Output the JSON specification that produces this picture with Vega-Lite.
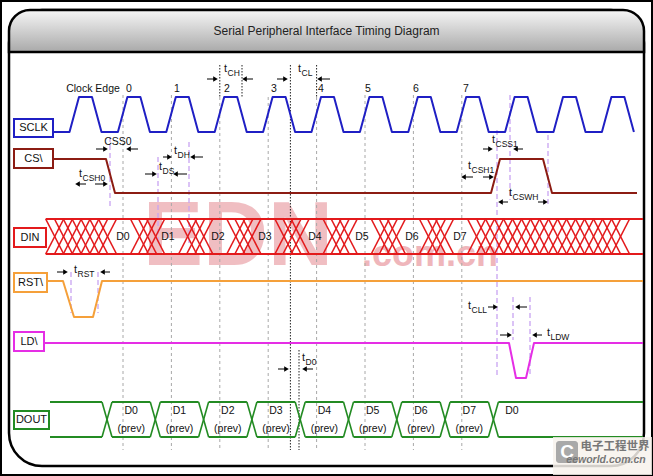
{
"$schema": "https://vega.github.io/schema/vega-lite/v6.json",
"width": 653, "height": 476,
"autosize": {"type": "fit", "contains": "padding"},
"padding": 0,
"background": "white",
"config": {"view": {"stroke": "black", "strokeWidth": 4}, "text": {"font": "Liberation Sans"}},
"datasets": {
"frame": [{"x": 9, "x2": 644, "y": 10, "y2": 466}],
"header": [{"x": 9, "x2": 644, "y": 10, "y2": 52}],
"waves": [
{"s":"SCLK","o":0,"x":53,"y":132},
{"s":"SCLK","o":1,"x":69.5,"y":132},{"s":"SCLK","o":2,"x":79,"y":97},{"s":"SCLK","o":3,"x":92,"y":97},{"s":"SCLK","o":4,"x":101.5,"y":132},
{"s":"SCLK","o":5,"x":117.9,"y":132},{"s":"SCLK","o":6,"x":127.4,"y":97},{"s":"SCLK","o":7,"x":140.4,"y":97},{"s":"SCLK","o":8,"x":149.9,"y":132},
{"s":"SCLK","o":9,"x":166.3,"y":132},{"s":"SCLK","o":10,"x":175.8,"y":97},{"s":"SCLK","o":11,"x":188.8,"y":97},{"s":"SCLK","o":12,"x":198.3,"y":132},
{"s":"SCLK","o":13,"x":214.7,"y":132},{"s":"SCLK","o":14,"x":224.2,"y":97},{"s":"SCLK","o":15,"x":237.2,"y":97},{"s":"SCLK","o":16,"x":246.7,"y":132},
{"s":"SCLK","o":17,"x":263.1,"y":132},{"s":"SCLK","o":18,"x":272.6,"y":97},{"s":"SCLK","o":19,"x":285.6,"y":97},{"s":"SCLK","o":20,"x":295.1,"y":132},
{"s":"SCLK","o":21,"x":311.5,"y":132},{"s":"SCLK","o":22,"x":321,"y":97},{"s":"SCLK","o":23,"x":334,"y":97},{"s":"SCLK","o":24,"x":343.5,"y":132},
{"s":"SCLK","o":25,"x":359.9,"y":132},{"s":"SCLK","o":26,"x":369.4,"y":97},{"s":"SCLK","o":27,"x":382.4,"y":97},{"s":"SCLK","o":28,"x":391.9,"y":132},
{"s":"SCLK","o":29,"x":408.3,"y":132},{"s":"SCLK","o":30,"x":417.8,"y":97},{"s":"SCLK","o":31,"x":430.8,"y":97},{"s":"SCLK","o":32,"x":440.3,"y":132},
{"s":"SCLK","o":33,"x":456.7,"y":132},{"s":"SCLK","o":34,"x":466.2,"y":97},{"s":"SCLK","o":35,"x":479.2,"y":97},{"s":"SCLK","o":36,"x":488.7,"y":132},
{"s":"SCLK","o":37,"x":505.1,"y":132},{"s":"SCLK","o":38,"x":514.6,"y":97},{"s":"SCLK","o":39,"x":527.6,"y":97},{"s":"SCLK","o":40,"x":537.1,"y":132},
{"s":"SCLK","o":41,"x":553.5,"y":132},{"s":"SCLK","o":42,"x":563,"y":97},{"s":"SCLK","o":43,"x":576,"y":97},{"s":"SCLK","o":44,"x":585.5,"y":132},
{"s":"SCLK","o":45,"x":601.9,"y":132},{"s":"SCLK","o":46,"x":611.4,"y":97},{"s":"SCLK","o":47,"x":624.4,"y":97},{"s":"SCLK","o":48,"x":633.9,"y":132},
{"s":"CS","o":0,"x":53,"y":159},{"s":"CS","o":1,"x":106,"y":159},{"s":"CS","o":2,"x":115,"y":193},{"s":"CS","o":3,"x":491,"y":193},{"s":"CS","o":4,"x":500,"y":159},{"s":"CS","o":5,"x":543,"y":159},{"s":"CS","o":6,"x":552,"y":193},{"s":"CS","o":7,"x":637,"y":193},
{"s":"RST","o":0,"x":47,"y":281},{"s":"RST","o":1,"x":63,"y":281},{"s":"RST","o":2,"x":74,"y":317},{"s":"RST","o":3,"x":93,"y":317},{"s":"RST","o":4,"x":102,"y":281},{"s":"RST","o":5,"x":643,"y":281},
{"s":"LD","o":0,"x":44,"y":343},{"s":"LD","o":1,"x":509,"y":343},{"s":"LD","o":2,"x":516,"y":378},{"s":"LD","o":3,"x":526,"y":378},{"s":"LD","o":4,"x":534,"y":343},{"s":"LD","o":5,"x":643,"y":343}
],
"xs": [
{"s":"DIN","lo":45.7,"hi":63.7,"t":219,"b":254},{"s":"DIN","lo":54.5,"hi":72.5,"t":219,"b":254},{"s":"DIN","lo":63.3,"hi":81.3,"t":219,"b":254},{"s":"DIN","lo":72.1,"hi":90.1,"t":219,"b":254},{"s":"DIN","lo":80.9,"hi":98.9,"t":219,"b":254},{"s":"DIN","lo":89.7,"hi":107.7,"t":219,"b":254},{"s":"DIN","lo":98.5,"hi":116.5,"t":219,"b":254},
{"s":"DIN","lo":130.5,"hi":148.5,"t":219,"b":254},{"s":"DIN","lo":138.6,"hi":156.6,"t":219,"b":254},{"s":"DIN","lo":146.65,"hi":164.65,"t":219,"b":254},
{"s":"DIN","lo":178.65,"hi":196.65,"t":219,"b":254},{"s":"DIN","lo":186.7,"hi":204.7,"t":219,"b":254},{"s":"DIN","lo":194.8,"hi":212.8,"t":219,"b":254},
{"s":"DIN","lo":226.8,"hi":244.8,"t":219,"b":254},{"s":"DIN","lo":234.9,"hi":252.9,"t":219,"b":254},{"s":"DIN","lo":242.95,"hi":260.95,"t":219,"b":254},
{"s":"DIN","lo":274.95,"hi":292.95,"t":219,"b":254},{"s":"DIN","lo":283,"hi":301,"t":219,"b":254},{"s":"DIN","lo":291.1,"hi":309.1,"t":219,"b":254},
{"s":"DIN","lo":323.1,"hi":341.1,"t":219,"b":254},{"s":"DIN","lo":331.2,"hi":349.2,"t":219,"b":254},{"s":"DIN","lo":339.25,"hi":357.25,"t":219,"b":254},
{"s":"DIN","lo":371.25,"hi":389.25,"t":219,"b":254},{"s":"DIN","lo":379.3,"hi":397.3,"t":219,"b":254},{"s":"DIN","lo":387.4,"hi":405.4,"t":219,"b":254},
{"s":"DIN","lo":419.4,"hi":437.4,"t":219,"b":254},{"s":"DIN","lo":427.5,"hi":445.5,"t":219,"b":254},{"s":"DIN","lo":435.55,"hi":453.55,"t":219,"b":254},
{"s":"DIN","lo":467.55,"hi":485.55,"t":219,"b":254},{"s":"DIN","lo":476.55,"hi":494.55,"t":219,"b":254},{"s":"DIN","lo":485.55,"hi":503.55,"t":219,"b":254},{"s":"DIN","lo":494.55,"hi":512.55,"t":219,"b":254},{"s":"DIN","lo":503.55,"hi":521.55,"t":219,"b":254},{"s":"DIN","lo":512.55,"hi":530.55,"t":219,"b":254},{"s":"DIN","lo":521.55,"hi":539.55,"t":219,"b":254},{"s":"DIN","lo":530.55,"hi":548.55,"t":219,"b":254},{"s":"DIN","lo":539.55,"hi":557.55,"t":219,"b":254},{"s":"DIN","lo":548.55,"hi":566.55,"t":219,"b":254},{"s":"DIN","lo":557.55,"hi":575.55,"t":219,"b":254},{"s":"DIN","lo":566.55,"hi":584.55,"t":219,"b":254},{"s":"DIN","lo":575.55,"hi":593.55,"t":219,"b":254},{"s":"DIN","lo":584.55,"hi":602.55,"t":219,"b":254},{"s":"DIN","lo":593.55,"hi":611.55,"t":219,"b":254},{"s":"DIN","lo":602.55,"hi":620.55,"t":219,"b":254},{"s":"DIN","lo":611.55,"hi":629.55,"t":219,"b":254},
{"s":"DOUT","lo":102,"hi":112,"t":402,"b":437},{"s":"DOUT","lo":150.3,"hi":160.3,"t":402,"b":437},{"s":"DOUT","lo":198.6,"hi":208.6,"t":402,"b":437},{"s":"DOUT","lo":246.9,"hi":256.9,"t":402,"b":437},{"s":"DOUT","lo":295.2,"hi":305.2,"t":402,"b":437},{"s":"DOUT","lo":343.5,"hi":353.5,"t":402,"b":437},{"s":"DOUT","lo":391.8,"hi":401.8,"t":402,"b":437},{"s":"DOUT","lo":440.1,"hi":450.1,"t":402,"b":437},{"s":"DOUT","lo":488.4,"hi":498.4,"t":402,"b":437}
],
"hlines": [
{"s":"DIN","x":45.7,"x2":643,"y":219},{"s":"DIN","x":45.7,"x2":643,"y":254},
{"s":"DOUT","x":50,"x2":102,"y":402},{"s":"DOUT","x":112,"x2":150.3,"y":402},{"s":"DOUT","x":160.3,"x2":198.6,"y":402},{"s":"DOUT","x":208.6,"x2":246.9,"y":402},{"s":"DOUT","x":256.9,"x2":295.2,"y":402},{"s":"DOUT","x":305.2,"x2":343.5,"y":402},{"s":"DOUT","x":353.5,"x2":391.8,"y":402},{"s":"DOUT","x":401.8,"x2":440.1,"y":402},{"s":"DOUT","x":450.1,"x2":488.4,"y":402},{"s":"DOUT","x":498.4,"x2":643,"y":402},
{"s":"DOUT","x":50,"x2":102,"y":437},{"s":"DOUT","x":112,"x2":150.3,"y":437},{"s":"DOUT","x":160.3,"x2":198.6,"y":437},{"s":"DOUT","x":208.6,"x2":246.9,"y":437},{"s":"DOUT","x":256.9,"x2":295.2,"y":437},{"s":"DOUT","x":305.2,"x2":343.5,"y":437},{"s":"DOUT","x":353.5,"x2":391.8,"y":437},{"s":"DOUT","x":401.8,"x2":440.1,"y":437},{"s":"DOUT","x":450.1,"x2":488.4,"y":437},{"s":"DOUT","x":498.4,"x2":643,"y":437}
],
"boxes": [
{"s":"SCLK","t":"SCLK","x":14,"x2":53,"y":119,"y2":137,"cx":33.5,"cy":128},
{"s":"CS","t":"CS\\","x":14,"x2":53,"y":149,"y2":168,"cx":33.5,"cy":158.5},
{"s":"DIN","t":"DIN","x":14,"x2":46,"y":228,"y2":247,"cx":30,"cy":237.5},
{"s":"RST","t":"RST\\","x":14,"x2":47,"y":273,"y2":292,"cx":30.5,"cy":282.5},
{"s":"LD","t":"LD\\","x":14,"x2":44,"y":332,"y2":351,"cx":29,"cy":341.5},
{"s":"DOUT","t":"DOUT","x":14,"x2":49,"y":411,"y2":429,"cx":31.5,"cy":420}
],
"guides": [
{"k":"g","x":123,"y":95,"y2":450},{"k":"g","x":171.4,"y":95,"y2":450},{"k":"g","x":219.8,"y":97,"y2":450},{"k":"g","x":268.2,"y":97,"y2":450},{"k":"g","x":316.6,"y":97,"y2":450},{"k":"g","x":365,"y":95,"y2":450},{"k":"g","x":413.4,"y":95,"y2":450},{"k":"g","x":461.8,"y":95,"y2":450},
{"k":"b","x":219.8,"y":65,"y2":97},{"k":"b","x":242,"y":65,"y2":97},{"k":"b","x":290.4,"y":65,"y2":450},{"k":"b","x":316.6,"y":65,"y2":97},{"k":"b","x":299,"y":350,"y2":450},
{"k":"p","x":110,"y":137,"y2":207},{"k":"p","x":158,"y":157,"y2":245},{"k":"p","x":189,"y":142,"y2":245},{"k":"p","x":71,"y":272,"y2":313},{"k":"p","x":98,"y":272,"y2":313},{"k":"p","x":497,"y":130,"y2":375},{"k":"p","x":510,"y":95,"y2":200},{"k":"p","x":548,"y":135,"y2":205},{"k":"p","x":513,"y":297,"y2":340},{"k":"p","x":530,"y":297,"y2":375}
],
"arrows": [
{"x":207,"h":215.5,"y":79,"d":"R"},{"x":253,"h":244.5,"y":79,"d":"L"},
{"x":277,"h":285.5,"y":79,"d":"R"},{"x":330,"h":319.5,"y":79,"d":"L"},
{"x":96,"h":105.5,"y":149,"d":"R"},{"x":138,"h":128.5,"y":149,"d":"L"},
{"x":163,"h":169.5,"y":157,"d":"R"},{"x":203,"h":192.5,"y":157,"d":"L"},
{"x":145,"h":154.5,"y":174,"d":"R"},{"x":187,"h":175.5,"y":174,"d":"L"},
{"x":86,"h":77.5,"y":184,"d":"L"},{"x":95,"h":105.5,"y":184,"d":"R"},
{"x":483,"h":490.5,"y":149,"d":"R"},{"x":523,"h":515.5,"y":149,"d":"L"},
{"x":473,"h":463.5,"y":177,"d":"L"},{"x":483,"h":491.5,"y":177,"d":"R"},
{"x":508,"h":500.5,"y":202,"d":"L"},{"x":538,"h":545.5,"y":202,"d":"R"},
{"x":488,"h":495.5,"y":307,"d":"R"},{"x":527,"h":517.5,"y":307,"d":"L"},
{"x":500,"h":509.5,"y":335,"d":"R"},{"x":542,"h":534.5,"y":335,"d":"L"},
{"x":278,"h":286.5,"y":369,"d":"R"},{"x":313,"h":304.5,"y":369,"d":"L"},
{"x":57,"h":65.5,"y":272,"d":"R"},{"x":110,"h":102.5,"y":272,"d":"L"}
],
"labels": [
{"k":"lab","t":"Clock Edge","x":93,"y":89},
{"k":"lab","t":"0","x":129,"y":89},{"k":"lab","t":"1","x":177,"y":89},{"k":"lab","t":"2","x":227,"y":89},{"k":"lab","t":"3","x":274,"y":89},{"k":"lab","t":"4","x":321,"y":89},{"k":"lab","t":"5","x":368,"y":89},{"k":"lab","t":"6","x":416,"y":89},{"k":"lab","t":"7","x":466,"y":89},
{"k":"lab","t":"CSS0","x":118,"y":142},
{"k":"lab","t":"D0","x":123,"y":237},{"k":"lab","t":"D1","x":168,"y":237},{"k":"lab","t":"D2","x":218,"y":237},{"k":"lab","t":"D3","x":265,"y":237},{"k":"lab","t":"D4","x":315,"y":237},{"k":"lab","t":"D5","x":362,"y":237},{"k":"lab","t":"D6","x":412,"y":237},{"k":"lab","t":"D7","x":460,"y":237},
{"k":"lab","t":"D0","x":131.2,"y":411},{"k":"lab","t":"D1","x":179.5,"y":411},{"k":"lab","t":"D2","x":227.8,"y":411},{"k":"lab","t":"D3","x":276,"y":411},{"k":"lab","t":"D4","x":324.4,"y":411},{"k":"lab","t":"D5","x":372.7,"y":411},{"k":"lab","t":"D6","x":421,"y":411},{"k":"lab","t":"D7","x":469.3,"y":411},{"k":"lab","t":"D0","x":512,"y":411},
{"k":"lab","t":"(prev)","x":131.2,"y":429},{"k":"lab","t":"(prev)","x":179.5,"y":429},{"k":"lab","t":"(prev)","x":227.8,"y":429},{"k":"lab","t":"(prev)","x":276,"y":429},{"k":"lab","t":"(prev)","x":324.4,"y":429},{"k":"lab","t":"(prev)","x":372.7,"y":429},{"k":"lab","t":"(prev)","x":421,"y":429},{"k":"lab","t":"(prev)","x":469.3,"y":429},
{"k":"t","t":"t","x":224,"y":69},{"k":"sub","t":"CH","x":227.5,"y":73},
{"k":"t","t":"t","x":298,"y":69},{"k":"sub","t":"CL","x":301.5,"y":73},
{"k":"t","t":"t","x":174,"y":151},{"k":"sub","t":"DH","x":177.5,"y":155},
{"k":"t","t":"t","x":159,"y":167},{"k":"sub","t":"DS","x":162.5,"y":171},
{"k":"t","t":"t","x":79,"y":174},{"k":"sub","t":"CSH0","x":82.5,"y":178},
{"k":"t","t":"t","x":492,"y":140},{"k":"sub","t":"CSS1","x":495.5,"y":144},
{"k":"t","t":"t","x":468,"y":166},{"k":"sub","t":"CSH1","x":471.5,"y":170},
{"k":"t","t":"t","x":509,"y":193},{"k":"sub","t":"CSWH","x":512.5,"y":197},
{"k":"t","t":"t","x":468,"y":306},{"k":"sub","t":"CLL","x":471.5,"y":310},
{"k":"t","t":"t","x":547,"y":333},{"k":"sub","t":"LDW","x":550.5,"y":337},
{"k":"t","t":"t","x":302,"y":358},{"k":"sub","t":"D0","x":305.5,"y":362},
{"k":"t","t":"t","x":74,"y":270},{"k":"sub","t":"RST","x":77.5,"y":274}
]
},
"layer": [
{"data": {"name": "frame"}, "mark": {"type": "rect", "cornerRadius": 33, "fill": "white", "stroke": "black", "strokeWidth": 2.5},
 "encoding": {"x": {"field": "x", "type": "quantitative", "scale": {"domain": [0, 653], "nice": false, "zero": false}, "axis": null}, "x2": {"field": "x2"},
  "y": {"field": "y", "type": "quantitative", "scale": {"domain": [0, 476], "nice": false, "zero": false, "reverse": true}, "axis": null}, "y2": {"field": "y2"}}},
{"data": {"name": "header"}, "mark": {"type": "rect", "cornerRadiusTopLeft": 33, "cornerRadiusTopRight": 33, "stroke": "black", "strokeWidth": 2.5,
  "fill": {"gradient": "linear", "x1": 0, "y1": 0, "x2": 0, "y2": 1, "stops": [{"offset": 0, "color": "#f6f6f6"}, {"offset": 1, "color": "#a9a9a9"}]}},
 "encoding": {"x": {"field": "x", "type": "quantitative"}, "x2": {"field": "x2"}, "y": {"field": "y", "type": "quantitative"}, "y2": {"field": "y2"}}},
{"data": {"values": [{"t": "Serial Peripheral Interface Timing Diagram", "x": 326.5, "y": 31}]},
 "mark": {"type": "text", "fontSize": 12, "color": "#222222", "align": "center", "baseline": "middle"},
 "encoding": {"x": {"field": "x", "type": "quantitative"}, "y": {"field": "y", "type": "quantitative"}, "text": {"field": "t"}}},
{"data": {"values": [{"t": "EDN", "x": 143, "y": 265}]},
 "mark": {"type": "text", "fontSize": 90, "fontWeight": "bold", "color": "#e0707a", "opacity": 0.45, "align": "left", "baseline": "alphabetic"},
 "encoding": {"x": {"field": "x", "type": "quantitative"}, "y": {"field": "y", "type": "quantitative"}, "text": {"field": "t"}}},
{"data": {"values": [{"t": ".com.cn", "x": 362, "y": 266}]},
 "mark": {"type": "text", "fontSize": 36, "fontWeight": "bold", "color": "#e0707a", "opacity": 0.5, "align": "left", "baseline": "alphabetic"},
 "encoding": {"x": {"field": "x", "type": "quantitative"}, "y": {"field": "y", "type": "quantitative"}, "text": {"field": "t"}}},
{"data": {"name": "guides"}, "transform": [{"filter": "datum.k == 'g'"}],
 "mark": {"type": "rule", "color": "#a8a8a8", "strokeWidth": 1, "strokeDash": [3, 3]},
 "encoding": {"x": {"field": "x", "type": "quantitative"}, "y": {"field": "y", "type": "quantitative"}, "y2": {"field": "y2"}}},
{"data": {"name": "guides"}, "transform": [{"filter": "datum.k == 'b'"}],
 "mark": {"type": "rule", "color": "#222222", "strokeWidth": 1, "strokeDash": [1.5, 1.5]},
 "encoding": {"x": {"field": "x", "type": "quantitative"}, "y": {"field": "y", "type": "quantitative"}, "y2": {"field": "y2"}}},
{"data": {"name": "guides"}, "transform": [{"filter": "datum.k == 'p'"}],
 "mark": {"type": "rule", "color": "#c8a4f2", "strokeWidth": 1.3, "strokeDash": [5, 3]},
 "encoding": {"x": {"field": "x", "type": "quantitative"}, "y": {"field": "y", "type": "quantitative"}, "y2": {"field": "y2"}}},
{"data": {"name": "hlines"}, "mark": {"type": "rule", "strokeWidth": 2},
 "encoding": {"x": {"field": "x", "type": "quantitative"}, "x2": {"field": "x2"}, "y": {"field": "y", "type": "quantitative"},
  "color": {"field": "s", "type": "nominal", "legend": null, "scale": {"domain": ["SCLK", "CS", "DIN", "RST", "LD", "DOUT"], "range": ["#1f1fc4", "#8c1c13", "#e31a1c", "#f5a03a", "#e52ee5", "#238b23"]}}}},
{"data": {"name": "xs"}, "mark": {"type": "rule", "strokeWidth": 1.6},
 "encoding": {"x": {"field": "lo", "type": "quantitative"}, "x2": {"field": "hi"}, "y": {"field": "t", "type": "quantitative"}, "y2": {"field": "b"},
  "color": {"field": "s", "type": "nominal", "legend": null}}},
{"data": {"name": "xs"}, "mark": {"type": "rule", "strokeWidth": 1.6},
 "encoding": {"x": {"field": "lo", "type": "quantitative"}, "x2": {"field": "hi"}, "y": {"field": "b", "type": "quantitative"}, "y2": {"field": "t"},
  "color": {"field": "s", "type": "nominal", "legend": null}}},
{"data": {"name": "waves"}, "mark": {"type": "line", "strokeWidth": 2, "strokeJoin": "round"},
 "encoding": {"x": {"field": "x", "type": "quantitative"}, "y": {"field": "y", "type": "quantitative"},
  "color": {"field": "s", "type": "nominal", "legend": null}, "order": {"field": "o", "type": "quantitative"}}},
{"data": {"name": "boxes"}, "mark": {"type": "rect", "fill": "white", "strokeWidth": 2},
 "encoding": {"x": {"field": "x", "type": "quantitative"}, "x2": {"field": "x2"}, "y": {"field": "y", "type": "quantitative"}, "y2": {"field": "y2"},
  "stroke": {"field": "s", "type": "nominal", "legend": null, "scale": {"domain": ["SCLK", "CS", "DIN", "RST", "LD", "DOUT"], "range": ["#1f1fc4", "#8c1c13", "#e31a1c", "#f5a03a", "#e52ee5", "#238b23"]}}}},
{"data": {"name": "boxes"}, "mark": {"type": "text", "fontSize": 11, "color": "#111111", "align": "center", "baseline": "middle"},
 "encoding": {"x": {"field": "cx", "type": "quantitative"}, "y": {"field": "cy", "type": "quantitative"}, "text": {"field": "t"}}},
{"data": {"name": "labels"}, "transform": [{"filter": "datum.k == 'lab'"}],
 "mark": {"type": "text", "fontSize": 10.5, "color": "#111111", "align": "center", "baseline": "middle"},
 "encoding": {"x": {"field": "x", "type": "quantitative"}, "y": {"field": "y", "type": "quantitative"}, "text": {"field": "t"}}},
{"data": {"name": "labels"}, "transform": [{"filter": "datum.k == 't'"}],
 "mark": {"type": "text", "fontSize": 11, "color": "#111111", "align": "left", "baseline": "middle"},
 "encoding": {"x": {"field": "x", "type": "quantitative"}, "y": {"field": "y", "type": "quantitative"}, "text": {"field": "t"}}},
{"data": {"name": "labels"}, "transform": [{"filter": "datum.k == 'sub'"}],
 "mark": {"type": "text", "fontSize": 8.5, "color": "#111111", "align": "left", "baseline": "middle"},
 "encoding": {"x": {"field": "x", "type": "quantitative"}, "y": {"field": "y", "type": "quantitative"}, "text": {"field": "t"}}},
{"data": {"name": "arrows"}, "mark": {"type": "rule", "color": "black", "strokeWidth": 1},
 "encoding": {"x": {"field": "x", "type": "quantitative"}, "x2": {"field": "h"}, "y": {"field": "y", "type": "quantitative"}}},
{"data": {"name": "arrows"}, "mark": {"type": "point", "filled": true, "color": "black", "opacity": 1, "size": 28},
 "encoding": {"x": {"field": "h", "type": "quantitative"}, "y": {"field": "y", "type": "quantitative"},
  "shape": {"field": "d", "type": "nominal", "legend": null, "scale": {"domain": ["L", "R"], "range": ["triangle-left", "triangle-right"]}}}},
{"data": {"values": [{"x": 553, "x2": 652, "y": 437, "y2": 475}]},
 "mark": {"type": "rect", "fill": "#f7f2ec", "opacity": 0.85},
 "encoding": {"x": {"field": "x", "type": "quantitative"}, "x2": {"field": "x2"}, "y": {"field": "y", "type": "quantitative"}, "y2": {"field": "y2"}}},
{"data": {"values": [{"x": 556, "x2": 578, "y": 441, "y2": 463}]},
 "mark": {"type": "rect", "fill": "#a9a9a9", "cornerRadius": 3},
 "encoding": {"x": {"field": "x", "type": "quantitative"}, "x2": {"field": "x2"}, "y": {"field": "y", "type": "quantitative"}, "y2": {"field": "y2"}}},
{"data": {"values": [{"t": "C", "x": 567, "y": 452}]},
 "mark": {"type": "text", "fontSize": 19, "fontWeight": "bold", "color": "white", "align": "center", "baseline": "middle"},
 "encoding": {"x": {"field": "x", "type": "quantitative"}, "y": {"field": "y", "type": "quantitative"}, "text": {"field": "t"}}},
{"data": {"values": [{"t": "电子工程世界", "x": 615, "y": 447}]},
 "mark": {"type": "text", "font": "Noto Sans CJK SC", "fontSize": 11.5, "fontWeight": "bold", "color": "#777777", "align": "center", "baseline": "middle"},
 "encoding": {"x": {"field": "x", "type": "quantitative"}, "y": {"field": "y", "type": "quantitative"}, "text": {"field": "t"}}},
{"data": {"values": [{"t": "eeworld.com.cn", "x": 606, "y": 460}]},
 "mark": {"type": "text", "fontSize": 10.5, "fontStyle": "italic", "fontWeight": "bold", "color": "#777777", "align": "center", "baseline": "middle"},
 "encoding": {"x": {"field": "x", "type": "quantitative"}, "y": {"field": "y", "type": "quantitative"}, "text": {"field": "t"}}}
]
}
